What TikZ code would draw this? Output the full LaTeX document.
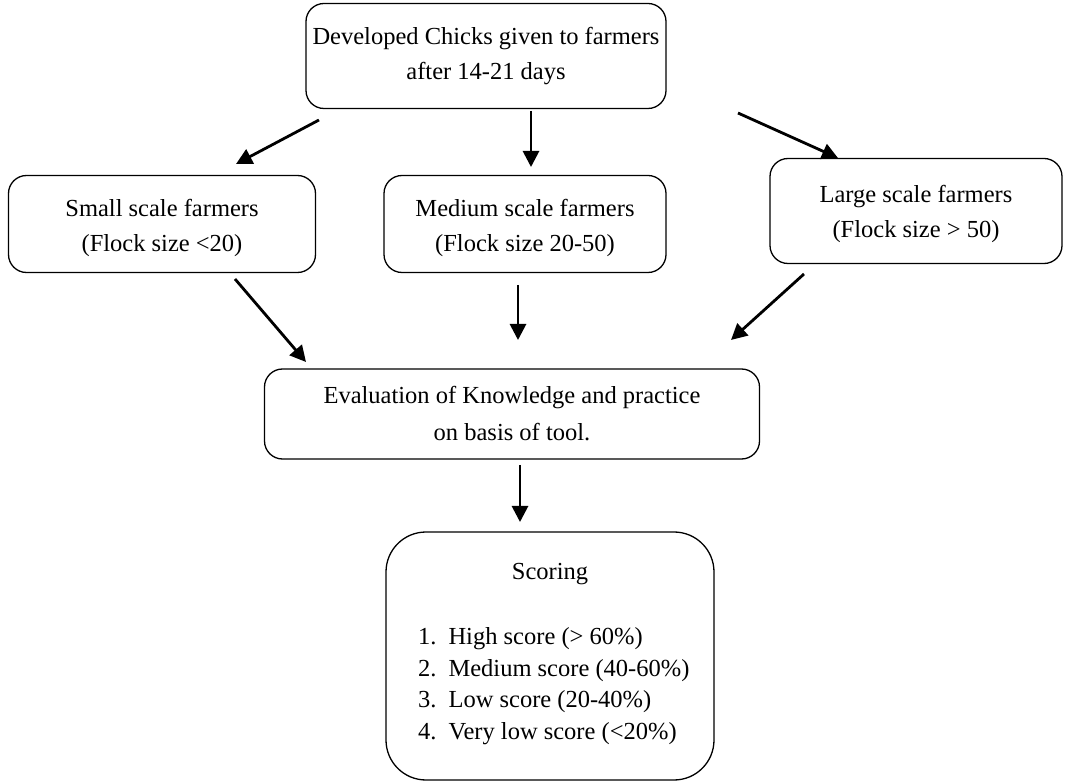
\documentclass[tikz,border=0pt]{standalone}
\usepackage{fontspec}
\setmainfont{Liberation Serif}
\usetikzlibrary{arrows.meta}
\begin{document}
\begin{tikzpicture}[x=1pt,y=-1pt,
  box/.style={draw, line width=1.3pt, rounded corners=18pt, align=center,
    font=\fontsize{24.5}{35}\selectfont, inner sep=0pt},
  arr/.style={line width=2.8pt, -{Triangle[length=16pt,width=16pt]}},
  txt/.style={font=\fontsize{24.5}{32}\selectfont, inner sep=0pt}]
\useasboundingbox (0,0) rectangle (1072,783);
% boxes
\node[box, minimum width=360pt, minimum height=105pt] (top) at (486,56) {Developed Chicks given to farmers\\after 14-21 days};
\node[box, minimum width=307pt, minimum height=97pt] (small) at (162,224) {\rule{0pt}{26pt}Small scale farmers\\(Flock size <20)};
\node[box, minimum width=282pt, minimum height=97pt] (medium) at (525,224) {\rule{0pt}{26pt}Medium scale farmers\\(Flock size 20-50)};
\node[box, minimum width=292pt, minimum height=105pt] (large) at (916,211) {\rule{0pt}{24pt}Large scale farmers\\(Flock size > 50)};
\node[box, minimum width=495pt, minimum height=90pt, font=\fontsize{24.5}{37}\selectfont] (eval) at (512,414) {Evaluation of Knowledge and practice\\on basis of tool.};
\node[draw, line width=1.3pt, rounded corners=40pt, minimum width=328pt, minimum height=248pt, inner sep=0pt] (score) at (550,656) {};
% scoring text
\node[txt] (stitle) at (550,574) {Scoring};
\node[txt, anchor=west] (l1) at (418,639) {1.\hspace{12pt}High score (> 60\%)};
\node[txt, anchor=west] (l2) at (418,671) {2.\hspace{12pt}Medium score (40-60\%)};
\node[txt, anchor=west] (l3) at (418,702) {3.\hspace{12pt}Low score (20-40\%)};
\node[txt, anchor=west] (l4) at (418,734) {4.\hspace{12pt}Very low score (<20\%)};
% arrow end points
\coordinate (a1s) at (319,120); \coordinate (a1e) at (236,164);
\coordinate (a2s) at (531,111); \coordinate (a2e) at (531,167);
\coordinate (a3s) at (738,113); \coordinate (a3e) at (838,158);
\coordinate (a4s) at (235,279); \coordinate (a4e) at (306,362);
\coordinate (a5s) at (518,285); \coordinate (a5e) at (518,340);
\coordinate (a6s) at (804,274); \coordinate (a6e) at (731,340);
\coordinate (a7s) at (520,465); \coordinate (a7e) at (520,522);
\draw[arr] (a1s) -- (a1e);
\draw[arr] (a2s) -- (a2e);
\draw[arr] (a3s) -- (a3e);
\draw[arr] (a4s) -- (a4e);
\draw[arr] (a5s) -- (a5e);
\draw[arr] (a6s) -- (a6e);
\draw[arr] (a7s) -- (a7e);
\end{tikzpicture}
\end{document}
